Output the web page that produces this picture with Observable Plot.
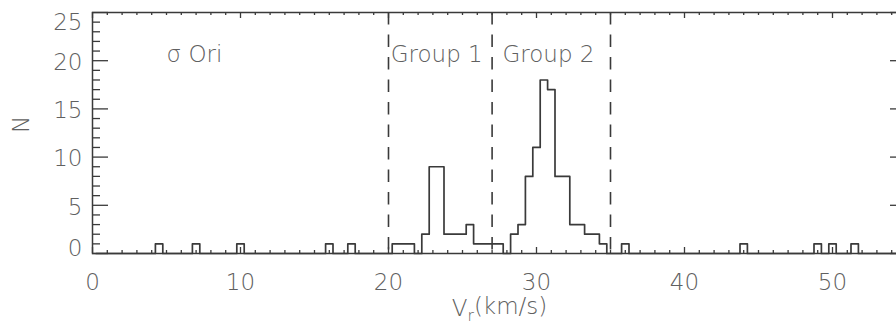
<!DOCTYPE html>
<html><head><meta charset="utf-8">
<script src="https://cdn.jsdelivr.net/npm/d3@7"></script>
<script src="https://cdn.jsdelivr.net/npm/@observablehq/plot@0.6"></script>
<style>
html,body{margin:0;padding:0;overflow:hidden;background:#fff;width:896px;height:328px}
#chart{width:896px;height:328px;overflow:hidden}
#chart svg{display:block;max-width:none !important;width:920px !important;height:328px !important}
</style></head><body><div id="chart"></div>
<script>
// Histogram: left edges of non-empty bins (km/s) and their counts
const binLeft  = [4.25, 6.75, 9.75, 15.75, 17.25,
                  20.25, 20.75, 21.25, 22.25, 22.75, 23.25, 23.75, 24.25, 24.75, 25.25,
                  25.75, 26.25, 26.75, 27.25,
                  28.25, 28.75, 29.25, 29.75, 30.25, 30.75, 31.25, 31.75, 32.25, 32.75, 33.25, 33.75, 34.25,
                  35.75, 43.75, 48.75, 49.75, 51.25];
const binCount = [1, 1, 1, 1, 1,
                  1, 1, 1, 2, 9, 9, 2, 2, 2, 3,
                  1, 1, 1, 1,
                  2, 3, 8, 11, 18, 17, 8, 8, 3, 3, 2, 2, 1,
                  1, 1, 1, 1, 1];
const binWidth = 0.5;
const gridStart = 0.25, gridEnd = 54.75;

// Group boundaries (dashed lines)
const groupBounds = [20, 27, 35];

// Annotations
const labelText = ["σ Ori", "Group 1", "Group 2"];
const labelX    = [5.0, 20.15, 27.7];
const labelY    = [20.6, 20.6, 20.6];

// Axes
const xTicks = [0, 10, 20, 30, 40, 50];
const yTicksMid = [5, 10, 15, 20];
const yTickLow = [0];
const yTickTop = [25];
const xDomain = [0, 55];
const yDomain = [0, 25];
const xTitle = "Vr(km/s)";
const yTitle = "N";

// build full step series (empty bins = 0)
const countMap = new Map(binLeft.map((b, i) => [b.toFixed(2), binCount[i]]));
const steps = [];
for (let k = 0; gridStart + k * binWidth <= gridEnd + 1e-9; k++) {
  const e = gridStart + k * binWidth;
  steps.push({x: e, n: countMap.get(e.toFixed(2)) ?? 0});
}
const labels = labelText.map((t, i) => ({t, x: labelX[i], y: labelY[i]}));
const yTicks = [...yTickLow, ...yTicksMid, ...yTickTop];

const W = 920, H = 328, mL = 92, mR = 14, mT = 12, mB = 75;
const pw = W - mL - mR, ph = H - mT - mB;
const xMinor = d3.range(xDomain[0], xDomain[1] + 1, 1).filter(v => !xTicks.includes(v));
const yMinor = d3.range(yDomain[0], yDomain[1] + 1, 1).filter(v => !yTicks.includes(v));
const ink = "#3a3a3a", txt = "#606060";
const font = "DejaVu Sans";
const fw = 200, fs = 23;

const plot = Plot.plot({
  width: W, height: H,
  marginLeft: mL, marginRight: mR, marginTop: mT, marginBottom: mB,
  x: {domain: xDomain},
  y: {domain: yDomain},
  style: {fontFamily: font, fontSize: "23px", color: txt, background: "#fff", overflow: "visible"},
  marks: [
    // minor & major ticks (inward, on all four sides)
    Plot.ruleX(xMinor, {x: d => d, insetTop: ph - 3, stroke: ink, strokeWidth: 1.3}),
    Plot.ruleX(xMinor, {x: d => d, insetBottom: ph - 3, stroke: ink, strokeWidth: 1.3}),
    Plot.ruleX(xTicks, {x: d => d, insetTop: ph - 6, stroke: ink, strokeWidth: 1.3}),
    Plot.ruleX(xTicks, {x: d => d, insetBottom: ph - 6, stroke: ink, strokeWidth: 1.3}),
    Plot.ruleY(yMinor, {y: d => d, insetRight: pw - 8, stroke: ink, strokeWidth: 1.3}),
    Plot.ruleY(yMinor, {y: d => d, insetLeft: pw - 8, stroke: ink, strokeWidth: 1.3}),
    Plot.ruleY(yTicks, {y: d => d, insetRight: pw - 16, stroke: ink, strokeWidth: 1.3}),
    Plot.ruleY(yTicks, {y: d => d, insetLeft: pw - 16, stroke: ink, strokeWidth: 1.3}),
    // dashed group boundaries
    Plot.ruleX(groupBounds, {x: d => d, stroke: ink, strokeWidth: 1.6, strokeDasharray: "12.5,10"}),
    // histogram
    Plot.line(steps, {x: "x", y: "n", curve: "step-after", stroke: ink, strokeWidth: 1.7}),
    // annotations
    Plot.text(labels, {x: "x", y: "y", text: "t", textAnchor: "start", fill: txt, fontSize: fs, fontWeight: fw}),
    // axis labels
    Plot.axisX({ticks: xTicks, tickSize: 0, tickPadding: 20, label: null, fontSize: fs, fontWeight: fw, fill: txt}),
    Plot.axisY({ticks: yTicksMid, tickSize: 0, tickPadding: 10, label: null, fontSize: fs, fontWeight: fw, fill: txt, dy: 2}),
    Plot.axisY({ticks: yTickTop, tickSize: 0, tickPadding: 10, label: null, fontSize: fs, fontWeight: fw, fill: txt, dy: 10}),
    Plot.axisY({ticks: yTickLow, tickSize: 0, tickPadding: 10, label: null, fontSize: fs, fontWeight: fw, fill: txt, dy: -5}),
    Plot.text([xTitle], {frameAnchor: "bottom", lineAnchor: "top", dy: 46, text: d => d, fill: txt, fontSize: fs, fontWeight: fw}),
    Plot.text([yTitle], {frameAnchor: "left", dx: -71, rotate: -90, text: d => d, fill: txt, fontSize: fs, fontWeight: fw}),
    Plot.frame({stroke: ink, strokeWidth: 1.5})
  ]
});

// subscript r in the x title
d3.select(plot).selectAll("text").filter(function () { return this.textContent === xTitle; })
  .each(function () {
    const t = d3.select(this);
    t.text(null);
    t.append("tspan").text("V");
    t.append("tspan").attr("dy", "0.3em").attr("font-size", "0.68em").text("r");
    t.append("tspan").attr("dy", "-0.3em").text("(km/s)");
  });

document.getElementById("chart").appendChild(plot);
</script></body></html>
